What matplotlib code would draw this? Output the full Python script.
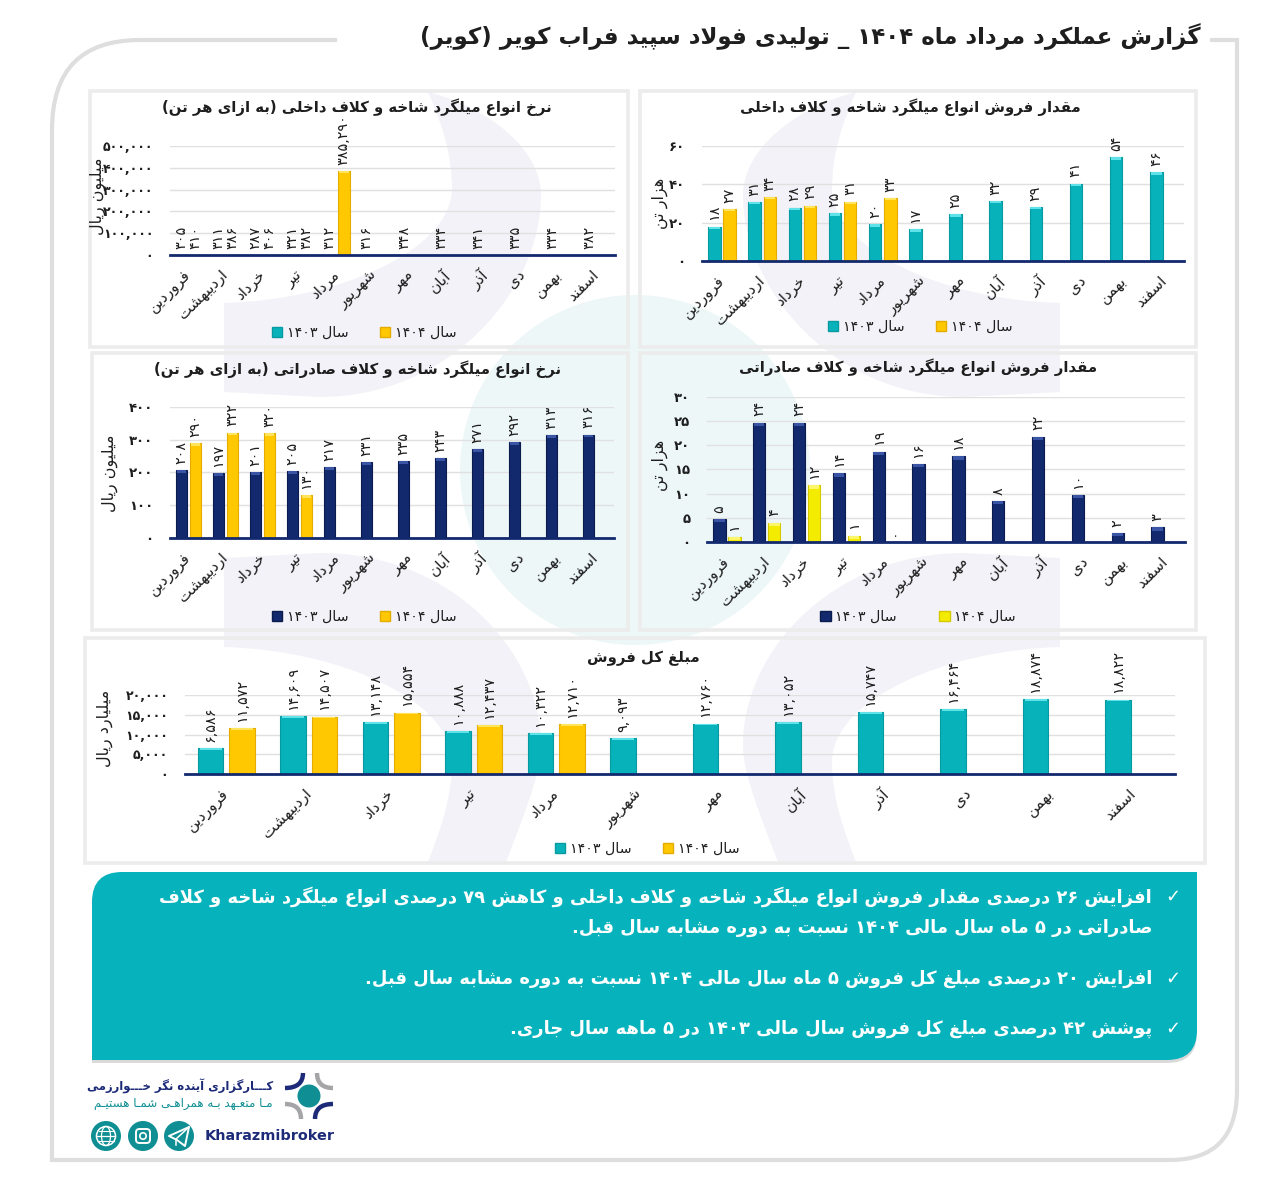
import re
import matplotlib
matplotlib.use('Agg')
import matplotlib.pyplot as plt
from matplotlib.patches import Patch, PathPatch, Circle, Ellipse, Rectangle, FancyBboxPatch, Polygon
from matplotlib.path import Path

W, H = 1280, 1190

months = ['فروردین', 'اردیبهشت', 'خرداد', 'تیر', 'مرداد', 'شهریور', 'مهر', 'آبان', 'آذر', 'دی', 'بهمن', 'اسفند']

# top right: domestic sales, thousand tons (bar heights and printed labels differ a bit)
dom_qty_03 = [17.9, 30.9, 27.9, 24.8, 19.2, 16.5, 24.4, 31.4, 28.3, 40.4, 54.2, 46.3]
dom_qty_04 = [27.2, 33.5, 28.9, 31, 33]
dom_qty_lab_03 = [18, 31, 28, 25, 20, 17, 25, 32, 29, 41, 54, 46]
dom_qty_lab_04 = [27, 34, 29, 31, 33]

# top left: domestic rate
dom_rate_03 = [305, 311, 287, 321, 312, 316, 348, 334, 341, 335, 334, 382]
dom_rate_04 = [410, 386, 406, 382, 385290]

# middle right: export sales
exp_qty_03 = [4.8, 24.7, 24.7, 14.2, 18.7, 16.1, 17.7, 8.5, 21.8, 9.7, 1.9, 3]
exp_qty_04 = [1, 4, 11.7, 1.3, 0]
exp_qty_lab_03 = [5, 24, 24, 14, 19, 16, 18, 8, 22, 10, 2, 3]
exp_qty_lab_04 = [1, 4, 12, 1, 0]

# middle left: export rate
exp_rate_03 = [208, 197, 201, 205, 217, 231, 235, 243, 271, 292, 313, 316]
exp_rate_04 = [290, 322, 320, 130]

# bottom: total sales
total_03 = [6586, 14609, 13148, 10888, 10322, 9093, 12760, 13052, 15747, 16464, 18874, 18822]
total_04 = [11572, 14507, 15554, 12437, 12710]

notes = [
    'افزایش ۲۶ درصدی مقدار فروش انواع میلگرد شاخه و کلاف داخلی و کاهش ۷۹ درصدی انواع میلگرد شاخه و کلاف',
    'صادراتی در ۵ ماه سال مالی ۱۴۰۴ نسبت به دوره مشابه سال قبل.',
    'افزایش ۲۰ درصدی مبلغ کل فروش ۵ ماه سال مالی ۱۴۰۴ نسبت به دوره مشابه سال قبل.',
    'پوشش ۴۲ درصدی مبلغ کل فروش سال مالی ۱۴۰۳ در ۵ ماهه سال جاری.',
]

TEAL, TEAL_E, TEAL_C = '#08B2BA', '#079AA1', '#5FE3E8'
GOLD, GOLD_E, GOLD_C = '#FFC800', '#E5AC00', '#FFE45C'
NAVY, NAVY_E, NAVY_C = '#13296E', '#0C1B4D', '#3A55A5'
LEMON, LEMON_E, LEMON_C = '#F4EC00', '#D6C800', '#FBF66A'
INK = '#1E1E1E'

# matplotlib does no Arabic shaping, so the letters go to presentation forms here
FOUR = {'ب': 0xFE8F, 'پ': 0xFB56, 'ت': 0xFE95, 'ث': 0xFE99, 'ج': 0xFE9D, 'چ': 0xFB7A, 'ح': 0xFEA1, 'خ': 0xFEA5,
        'س': 0xFEB1, 'ش': 0xFEB5, 'ص': 0xFEB9, 'ض': 0xFEBD, 'ط': 0xFEC1, 'ظ': 0xFEC5, 'ع': 0xFEC9, 'غ': 0xFECD,
        'ف': 0xFED1, 'ق': 0xFED5, 'ک': 0xFB8E, 'گ': 0xFB92, 'ل': 0xFEDD, 'م': 0xFEE1, 'ن': 0xFEE5, 'ه': 0xFEE9,
        'ی': 0xFBFC}
TWO = {'آ': 0xFE81, 'ا': 0xFE8D, 'د': 0xFEA9, 'ذ': 0xFEAB, 'ر': 0xFEAD, 'ز': 0xFEAF, 'ژ': 0xFB8A, 'و': 0xFEED}
KASH = 'ـ'


def fa(text):
    out = []
    chars = list(text.replace('لا', '\uFEFB').replace('لآ', '\uFEF5'))
    for i, c in enumerate(chars):
        prev = chars[i - 1] if i else ''
        nxt = chars[i + 1] if i + 1 < len(chars) else ''
        before = prev in FOUR or prev == KASH
        after = nxt in FOUR or nxt in TWO or nxt == KASH or nxt in '\uFEFB\uFEF5' and nxt != ''
        if c in FOUR:
            form = (1 if before else 0) if not after else (3 if before else 2)
            out.append(chr(FOUR[c] + form))
        elif c in TWO:
            out.append(chr(TWO[c] + (1 if before else 0)))
        elif c in '\uFEFB\uFEF5':
            out.append(chr(ord(c) + (1 if before else 0)))
        else:
            out.append(c)
    s = ''.join(out)[::-1]
    s = s.translate(str.maketrans('()', ')('))
    # digit runs read left to right
    return re.sub(r'[۰-۹][۰-۹,]*', lambda m: m.group(0)[::-1], s)


def num(v):
    return f'{v:,}'.translate(str.maketrans('0123456789', '۰۱۲۳۴۵۶۷۸۹'))


def px_ax(l, t, r, b):
    return fig.add_axes([l / W, 1 - b / H, (r - l) / W, (b - t) / H])


def ftext(x, y, s, **kw):
    kw.setdefault('color', INK)
    kw.setdefault('ha', 'center')
    kw.setdefault('va', 'center')
    return fig.text(x / W, 1 - y / H, s, **kw)


def bars(ax, x, vals, cols, width, ymax):
    ax.bar(x, vals, width, color=cols[0], edgecolor=cols[1], linewidth=0.8, zorder=3)
    cap = ymax * 0.022
    ax.bar(x, [cap if v > cap else 0 for v in vals], width * 0.86,
           bottom=[v - cap if v > cap else 0 for v in vals], color=cols[2], linewidth=0, zorder=4)


def chart(box, title, title_xy, ylabel, ylabel_xy, yticks, v03, v04, lab03, lab04, c03, c04, leg_xy,
          fs=10.4, tick_fs=9.5, tfs=10.7, colsp=2.2):
    ax = px_ax(*box)
    ax.patch.set_alpha(0)
    n = range(len(months))
    off = 0.19
    width = 0.31
    ymax = yticks[-1]
    bars(ax, [i - off for i in n], v03, c03, width, ymax)
    bars(ax, [i + off for i in range(len(v04))], v04, c04, width, ymax)
    for i, (v, t) in enumerate(zip(v03, lab03)):
        ax.annotate(num(t), (i - off, v), xytext=(0, 4.5), textcoords='offset points', rotation=90,
                    ha='center', va='bottom', fontsize=fs, color=INK, annotation_clip=False)
    for i, (v, t) in enumerate(zip(v04, lab04)):
        ax.annotate(num(t), (i + off, v), xytext=(0, 4.5), textcoords='offset points', rotation=90,
                    ha='center', va='bottom', fontsize=fs, color=INK, annotation_clip=False)
    ax.set_xlim(-0.5, 11.5)
    ax.set_ylim(0, ymax)
    ax.set_yticks(yticks, [num(t) for t in yticks], fontsize=tick_fs, fontweight='bold', color=INK)
    ax.set_xticks(list(n), [fa(m) for m in months], rotation=45, ha='right', va='center', rotation_mode='anchor',
                  fontsize=11, color=INK)
    ax.tick_params(length=0, axis='y', pad=12)
    ax.tick_params(length=0, axis='x', pad=12.5)
    ax.grid(axis='y', color='#E0E0E0', lw=1, zorder=0)
    ax.set_axisbelow(True)
    for s in ['top', 'right', 'left']:
        ax.spines[s].set_visible(False)
    ax.spines['bottom'].set_color(NAVY)
    ax.spines['bottom'].set_linewidth(2)
    ax.spines['bottom'].set_zorder(6)
    ftext(title_xy[0], title_xy[1], fa(title), fontsize=tfs, fontweight='bold')
    ftext(ylabel_xy[0], ylabel_xy[1], fa(ylabel), fontsize=11.5, rotation=90)
    handles = [Patch(facecolor=c03[0], edgecolor=c03[1]), Patch(facecolor=c04[0], edgecolor=c04[1])]
    ax.legend(handles, [fa('سال ۱۴۰۳'), fa('سال ۱۴۰۴')], ncol=2, frameon=False, loc='center',
              bbox_to_anchor=(leg_xy[0] / W, 1 - leg_xy[1] / H), bbox_transform=fig.transFigure,
              fontsize=10.3, handlelength=0.75, handleheight=0.75, handletextpad=0.3, columnspacing=colsp,
              labelcolor=INK)
    return ax


plt.rcParams['font.family'] = ['DejaVu Sans']
fig = plt.figure(figsize=(W / 100, H / 100), dpi=100, facecolor='white')

# page layer: watermark, frame, panels, note box, logo
bg = fig.add_axes([0, 0, 1, 1], zorder=-1)
bg.set_xlim(0, W)
bg.set_ylim(H, 0)
bg.axis('off')

bg.add_patch(Circle((635, 470), 175, fc='#EDF7F8', ec='none'))
C4 = Path.CURVE4
upper = [(428, 92), (490, 108), (541, 150), (541, 195), (541, 290), (450, 397), (320, 397), (224, 392), (224, 303),
         (340, 300), (450, 250), (452, 190), (452, 150), (440, 120), (428, 92)]
upper_codes = [Path.MOVETO, C4, C4, C4, C4, C4, C4, Path.LINETO, Path.LINETO, C4, C4, C4, C4, C4, C4]
lower = [(428, 862), (506, 862), (530, 800), (541, 770), (541, 745), (541, 650), (450, 553), (320, 553), (224, 558),
         (224, 647), (340, 650), (450, 700), (452, 760), (452, 800), (440, 830), (428, 862)]
lower_codes = [Path.MOVETO, Path.LINETO, C4, C4, C4, C4, C4, C4, Path.LINETO, Path.LINETO, C4, C4, C4, C4, C4, C4]
for pts, codes in [(upper, upper_codes), (lower, lower_codes)]:
    for mirror in (False, True):
        verts = [(1284 - x if mirror else x, y) for x, y in pts]
        bg.add_patch(PathPatch(Path(verts, codes), fc='#F2F2F8', ec='none'))

frame = Path([(337, 40), (140, 40), (52, 40), (52, 130), (52, 1160), (1170, 1160), (1237, 1160), (1237, 1090),
              (1237, 40), (1210, 40)],
             [Path.MOVETO, Path.LINETO, Path.CURVE3, Path.CURVE3, Path.LINETO, Path.LINETO, Path.CURVE3, Path.CURVE3,
              Path.LINETO, Path.LINETO])
bg.add_patch(PathPatch(frame, fc='none', ec='#DEDEDE', lw=3))

for l, t, r, b in [(90, 91, 628, 347), (640, 91, 1196, 347), (92, 353, 628, 630), (640, 353, 1196, 630),
                   (85, 638, 1205, 863)]:
    bg.add_patch(Rectangle((l, t), r - l, b - t, fc='none', ec='#ECECEC', lw=2.6))

# note box with a soft edge under it
for dy, col in [(3, '#DADADA'), (0, '#06B3BC')]:
    bg.add_patch(FancyBboxPatch((92 + 30, 872 + 30 + dy), 1105 - 60, 188 - 60, boxstyle='round,pad=30,rounding_size=30',
                                fc=col, ec='none'))
    bg.add_patch(Rectangle((92, 1030 + dy), 40, 30, fc=col, ec='none'))
    bg.add_patch(Rectangle((1157, 872 + dy), 40, 40, fc=col, ec='none'))

# logo
bg.add_patch(Circle((309, 1096), 11.5, fc='#0F8F93', ec='none'))
for x0, y0, x1, y1, cx, cy, col in [(285, 1088, 303, 1073, 303, 1088, '#1C2A78'),
                                    (333, 1104, 315, 1119, 315, 1104, '#1C2A78'),
                                    (317, 1073, 333, 1088, 317, 1088, '#A5A5A8'),
                                    (285, 1104, 301, 1119, 301, 1104, '#A5A5A8')]:
    bg.add_patch(PathPatch(Path([(x0, y0), (cx, cy), (x1, y1)], [Path.MOVETO, Path.CURVE3, Path.CURVE3]),
                           fc='none', ec=col, lw=3.2, capstyle='butt'))
for cx in (106, 143, 179):
    bg.add_patch(Circle((cx, 1136), 15, fc='#0F8F93', ec='none'))
bg.add_patch(Circle((106, 1136), 9.5, fc='none', ec='white', lw=1.1))
bg.add_patch(Ellipse((106, 1136), 9, 19, fc='none', ec='white', lw=0.9))
bg.plot([97, 115], [1136, 1136], color='white', lw=0.9)
bg.plot([98.5, 113.5], [1131, 1131], color='white', lw=0.8)
bg.plot([98.5, 113.5], [1141, 1141], color='white', lw=0.8)
bg.add_patch(FancyBboxPatch((136, 1129), 14, 14, boxstyle='round,pad=0,rounding_size=3.5', fc='none', ec='white', lw=1.4))
bg.add_patch(Circle((143, 1136), 3.2, fc='none', ec='white', lw=1.2))
bg.add_patch(Polygon([(169, 1136), (189, 1127), (185, 1146), (177, 1140)], closed=True, fc='none', ec='white', lw=1.4,
                     joinstyle='round'))
bg.plot([189, 176, 176], [1127, 1139, 1145], color='white', lw=1.1)

ftext(810, 37, fa('گزارش عملکرد مرداد ماه ۱۴۰۴ _ تولیدی فولاد سپید فراب کویر (کویر)'), fontsize=16.5, fontweight='bold')

chart((170, 146, 615, 255), 'نرخ انواع میلگرد شاخه و کلاف داخلی (به ازای هر تن)', (357, 107), 'میلیون ریال', (98, 196),
      [0, 100000, 200000, 300000, 400000, 500000], dom_rate_03, dom_rate_04, dom_rate_03, dom_rate_04,
      (TEAL, TEAL_E, TEAL_C), (GOLD, GOLD_E, GOLD_C), (364, 333), tick_fs=9)
chart((702, 146, 1184, 261), 'مقدار فروش انواع میلگرد شاخه و کلاف داخلی', (910, 107), 'هزار تن', (660, 203),
      [0, 20, 40, 60], dom_qty_03, dom_qty_04, dom_qty_lab_03, dom_qty_lab_04,
      (TEAL, TEAL_E, TEAL_C), (GOLD, GOLD_E, GOLD_C), (920, 327))
chart((170, 407, 614, 538), 'نرخ انواع میلگرد شاخه و کلاف صادراتی (به ازای هر تن)', (358, 369), 'میلیون ریال', (110, 473),
      [0, 100, 200, 300, 400], exp_rate_03, exp_rate_04, exp_rate_03, exp_rate_04,
      (NAVY, NAVY_E, NAVY_C), (GOLD, GOLD_E, GOLD_C), (364, 617))
chart((707, 397, 1185, 542), 'مقدار فروش انواع میلگرد شاخه و کلاف صادراتی', (918, 367), 'هزار تن', (660, 465),
      [0, 5, 10, 15, 20, 25, 30], exp_qty_03, exp_qty_04, exp_qty_lab_03, exp_qty_lab_04,
      (NAVY, NAVY_E, NAVY_C), (LEMON, LEMON_E, LEMON_C), (918, 617), colsp=3.0)
chart((185, 695, 1175, 774), 'مبلغ کل فروش', (643, 658), 'میلیارد ریال', (105, 728),
      [0, 5000, 10000, 15000, 20000], total_03, total_04, total_03, total_04,
      (TEAL, TEAL_E, TEAL_C), (GOLD, GOLD_E, GOLD_C), (647, 849), tick_fs=9)

for y, s in zip([897, 928, 979, 1029], notes):
    ftext(1152, y, fa(s), fontsize=12.9, fontweight='bold', color='white', ha='right')
for y in (897, 979, 1029):
    ftext(1173, y, '✓', fontsize=13, color='white')

ftext(273, 1086, fa('کـــارگزاری آینده نگر خـــوارزمی'), fontsize=8.4, fontweight='bold', color='#1C2A78', ha='right')
ftext(273, 1104, fa('مـا متعـهد بـه همراهـی شمـا هستیـم'), fontsize=8.6, color='#0F8F93', ha='right')
ftext(205, 1136, 'Kharazmibroker', fontsize=10.4, fontweight='bold', color='#1C2A78', ha='left')

fig.savefig('out.png', dpi=100)
